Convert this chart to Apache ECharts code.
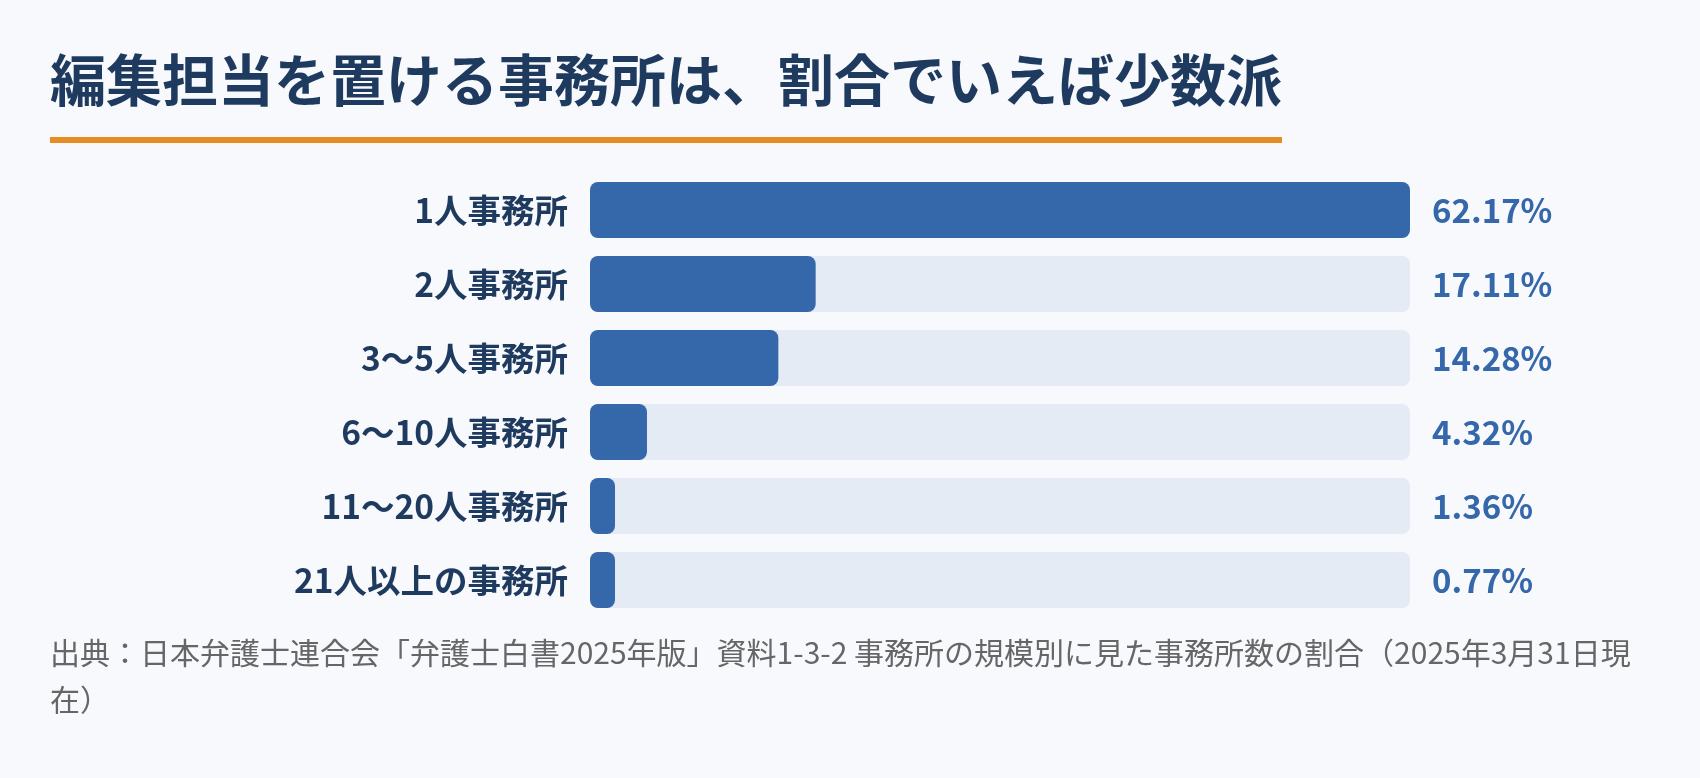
<!DOCTYPE html>
<html>
<head>
<meta charset="utf-8">
<script src="https://cdn.jsdelivr.net/npm/echarts@6/dist/echarts.min.js"></script>
<style>
  html, body { margin: 0; padding: 0; background: #f7f9fc; }
  #chart { width: 1700px; height: 778px; }
</style>
</head>
<body>
<div id="chart"></div>
<script>
const title = '編集担当を置ける事務所は、割合でいえば少数派'
const source = '出典：日本弁護士連合会「弁護士白書2025年版」資料1-3-2 事務所の規模別に見た事務所数の割合（2025年3月31日現在）'
const categories = ['1人事務所', '2人事務所', '3〜5人事務所', '6〜10人事務所', '11〜20人事務所', '21人以上の事務所']
const shares = [62.17, 17.11, 14.28, 4.32, 1.36, 0.77]
const shareLabels = ['62.17%', '17.11%', '14.28%', '4.32%', '1.36%', '0.77%']

const font = '"Noto Sans CJK JP", "Noto Sans", sans-serif'

const option = {
  backgroundColor: '#f7f9fc',
  animation: false,
  textStyle: { fontFamily: font },
  grid: { left: 590, right: 290, top: 173, height: 444 },
  xAxis: {
    type: 'value',
    min: 0,
    max: Math.max(...shares),
    show: false
  },
  yAxis: [{
    type: 'category',
    data: categories,
    inverse: true,
    axisLine: { show: false },
    axisTick: { show: false },
    axisLabel: {
      margin: 22,
      fontSize: 33.5,
      fontWeight: 'bold',
      color: '#1f3a5f',
      fontFamily: font
    }
  }, {
    type: 'category',
    data: shareLabels,
    inverse: true,
    position: 'right',
    axisLine: { show: false },
    axisTick: { show: false },
    axisLabel: {
      margin: 22,
      fontSize: 33,
      fontWeight: 'bold',
      color: '#3567ab',
      align: 'left',
      fontFamily: font
    }
  }],
  series: [{
    type: 'bar',
    data: shares,
    barWidth: 56,
    barMinHeight: 25,
    showBackground: true,
    backgroundStyle: { color: '#e4ebf5', borderRadius: 8 },
    itemStyle: { color: '#3567ab', borderRadius: 8 }
  }],
  graphic: [{
    type: 'text',
    left: 50,
    top: 52,
    style: {
      text: title,
      font: 'bold 56px ' + font,
      fill: '#1f3a5f'
    }
  }, {
    // orange rule under the title
    type: 'rect',
    left: 50,
    top: 137,
    shape: { width: 1232, height: 6 },
    style: { fill: '#e58d22' }
  }, {
    type: 'text',
    left: 50,
    top: 629,
    style: {
      text: source,
      font: '30px ' + font,
      fill: '#666666',
      width: 1605,
      overflow: 'break',
      lineHeight: 47
    }
  }]
}

const chart = echarts.init(document.getElementById('chart'))
chart.setOption(option)
</script>
</body>
</html>
